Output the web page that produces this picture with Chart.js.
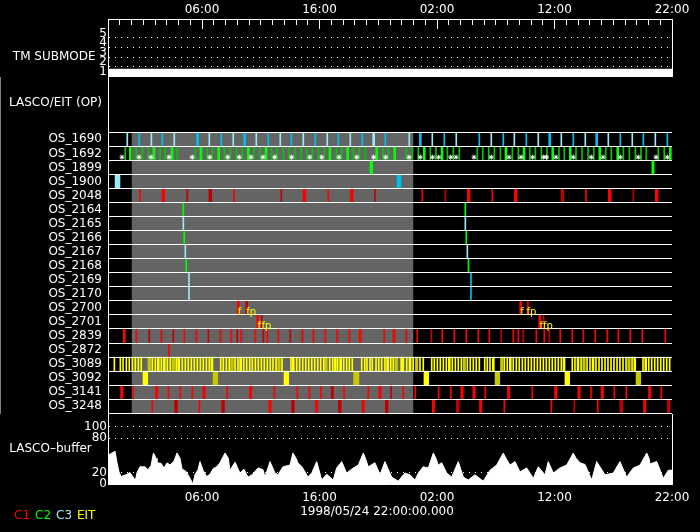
<!DOCTYPE html>
<html><head><meta charset="utf-8">
<script src="https://cdn.jsdelivr.net/npm/chart.js@4.4.1/dist/chart.umd.min.js"></script>
<style>
html,body{margin:0;padding:0;background:#000;width:700px;height:532px;overflow:hidden}
canvas{position:absolute;left:0}
#cTop{top:0}#cRows{top:77px}#cBuf{top:414px}
</style></head><body>
<canvas id="cTop" width="700" height="77"></canvas>
<canvas id="cRows" width="700" height="337"></canvas>
<canvas id="cBuf" width="700" height="118"></canvas>
<script>
// ---------------- data ----------------
const startTime = '1998/05/24 22:00:00.000';
const axisHours = [8, 18, 28, 38, 48];            // hours after start
const axisLabels = ['06:00', '16:00', '02:00', '12:00', '22:00'];
const submodeLevels = [1, 2, 3, 4, 5];
const tmSubmodeHours = [0, 48];
const tmSubmodeValues = [1, 1];
const opPeriod = [2, 26];                          // LASCO/EIT operational window (hours)
const rowNames = ['OS_1690','OS_1692','OS_1899','OS_1900','OS_2048','OS_2164','OS_2165','OS_2166','OS_2167','OS_2168',
  'OS_2169','OS_2170','OS_2700','OS_2701','OS_2839','OS_2872','OS_3089','OS_3092','OS_3141','OS_3248'];
const legendNames = ['C1', 'C2', 'C3', 'EIT'];
const bufferTicks = [0, 20, 80, 100];

// marks: centre hour, or [centre hour, exposure minutes]
const os1690C3 = [1.64,3.69,5.64,8.62,10.66,12.62,14.66,16.62,18.66,20.62,[22.61,10],25.64,27.60,29.64,32.62,34.58,36.62,38.58,40.62,42.58,44.62,46.58];
const os1690C3b = [2.66,4.62,[7.62,10],9.64,[11.63,10],13.64,15.60,17.64,19.60,21.64,23.60,[26.58,10],28.62,31.60,33.64,35.60,[37.59,10],39.60,[41.59,10],43.60,45.56,47.60];
const os1692C2 = [[1.90,10],[3.91,10],[5.45,10],[7.91,10],[9.42,10],[11.94,10],[13.45,10],[18.89,10],[20.40,10],[22.87,10],[24.40,10],[26.92,10],[28.43,10],[33.87,10],[35.40,10],[37.85,10],[39.34,10],[41.85,10],[43.38,10],[47.86,10]];
const os1692C2Dim = [1.47,2.41,2.92,3.43,4.43,4.88,5.90,7.43,8.45,8.88,9.90,10.41,10.92,11.43,12.43,12.94,13.93,14.41,14.92,15.43,15.94,16.45,16.91,17.39,17.90,18.41,19.43,19.89,20.88,21.39,21.90,23.40,23.86,25.39,25.90,26.41,27.43,27.91,28.88,29.39,29.90,31.43,31.89,32.40,32.88,33.39,34.41,34.92,35.89,36.37,36.88,37.36,38.38,38.83,39.83,40.34,40.85,41.34,42.36,42.83,43.86,44.37,44.88,45.36,45.81,46.83,47.34];
const os1692Done = [1.19,2.64,3.66,5.19,7.17,8.66,10.19,11.17,12.17,13.19,14.19,15.63,17.17,18.19,19.66,21.17,22.61,23.63,25.62,26.58,27.63,28.14,29.17,29.62,31.15,32.62,34.13,35.15,36.14,37.08,37.32,38.13,39.60,41.13,42.13,43.60,45.13,46.64,47.60];
const os1899C2 = [[22.41,14],[46.38,12]];
const os1900C3 = [[0.81,25]];
const os1900C3b = [[24.77,20]];
const os2048C1 = [2.72,[4.71,14],10.72,[16.71,14],18.75,[20.74,14],26.75,[30.70,14],32.71,[34.70,14],40.68,[42.70,14],[46.70,14]];
const os2048C1Dim = [6.75,[8.71,14],14.75,22.72,28.71,[38.68,14],44.71];
const os2164C2 = [6.41, 30.41];
const os2165C3 = [6.41, 30.41];
const os2166C2 = [6.49, 30.49];
const os2167C3 = [6.58, 30.58];
const os2168C2 = [6.66, 30.68];
const os2169C3 = [6.89];
const os2169C3b = [30.89];
const os2170C3 = [6.89];
const os2170C3b = [30.89];
const os2700C1 = [[11.09,10],[35.12,10]];
const os2700C1Dim = [[11.80,10],[35.74,10]];
const os2701C1 = [[12.74,10],[36.74,10]];
const os2701C1Dim = [13.08, 37.08];
const os2839C1 = [[1.39,10],2.41,4.54,6.49,7.51,9.56,10.49,11.34,12.54,13.56,14.49,16.54,17.47,18.49,19.51,20.54,[21.47,10],23.51,[24.34,10],25.39,26.32,28.45,29.47,30.49,31.51,32.45,34.49,34.92,36.45,37.13,38.49,39.51,40.45,41.47,42.49,43.43,44.45,45.47,47.43];
const os2839C1Dim = [3.51,5.56,8.54,11.00,13.22,15.51,27.51,33.47,35.34,37.56];
const os2872C1 = [5.19];
const os3089Eit = [0.54,1.05,1.28,1.56,1.81,2.07,2.32,2.58,2.83,3.77,4.03,[4.28,10],4.54,[4.79,10],5.05,5.30,5.81,[6.02,10],6.32,6.58,6.83,7.09,7.34,7.60,7.86,8.11,8.37,8.62,[8.85,10],9.59,9.81,10.07,10.32,10.81,11.06,[11.29,10],11.55,11.80,12.06,12.28,12.54,12.79,13.05,13.30,13.56,13.81,14.04,14.30,14.81,15.57,[15.77,10],16.06,16.31,16.57,16.83,17.08,17.34,17.59,17.85,18.10,18.36,18.87,19.12,[19.34,10],19.54,[19.80,10],20.06,20.31,20.54,20.79,21.59,21.85,22.04,22.30,22.49,22.81,23.04,23.29,23.57,[23.80,10],24.06,24.28,[24.99,10],25.13,25.42,[25.70,10],25.98,26.55,26.83,27.55,27.77,28.03,28.28,28.54,28.79,[29.05,10],29.30,29.56,29.81,30.07,30.58,30.83,31.09,31.34,31.60,32.06,32.28,32.51,[32.79,10],33.73,33.98,[34.24,10],34.49,34.75,35.00,35.26,35.51,35.77,36.03,36.28,36.54,36.79,37.05,37.30,37.56,37.81,38.07,38.32,38.58,[38.81,10],39.51,39.74,[40.00,10],40.26,40.77,41.02,[41.28,10],41.53,41.79,42.04,42.30,42.55,42.81,43.06,43.32,43.57,43.83,44.09,44.60,[44.83,10],45.53,[45.76,10],46.02,46.27,46.53,46.78,47.04,47.29,47.55,47.80];
const os3089EitDim = [[3.51,13],[5.56,13],[10.55,13],[14.55,13],[18.55,13],[24.54,13],[26.27,13],[30.32,13],[33.51,13],[40.51,13],[44.34,13]];
const os3092Eit = [[3.18,24],[15.18,24],[27.09,24],[39.09,24]];
const os3092EitDim = [[9.14,24],[21.13,27],[33.14,24],[45.14,24]];
const os3141C1 = [[1.17,12],2.15,[4.14,12],5.13,6.15,7.17,[8.17,12],10.15,[12.14,12],14.15,16.11,17.13,18.13,20.09,22.15,[23.15,12],25.13,26.15,28.14,29.17,[30.13,12],[31.15,12],32.11,[34.10,12],36.11,[38.10,12],[40.09,12],41.11,[42.07,12],43.09,44.11,[46.10,12],47.09];
const os3141C1Dim = [[19.09,12],24.09];
const os3248C1 = [3.77,7.77,[13.79,12],[17.76,12],[21.72,12],[27.69,12],[31.72,12],33.73,37.73,41.68,[45.68,12]];
const os3248C1Dim = [[5.79,14],[9.79,14],[15.74,14],[19.72,14],[23.72,14],[29.76,14],39.69,[43.68,14],[47.72,14]];

const planLabelHours = [11.05, 11.76, 35.08, 35.62, 12.72, 13.06, 36.72, 37.02];
const planLabelRows = ['OS_2700','OS_2700','OS_2700','OS_2700','OS_2701','OS_2701','OS_2701','OS_2701'];
const planLabelTexts = ['f','fp','f','fp','f','fp','f','fp'];

const bufHours = [0.00,0.60,0.77,0.94,1.11,1.53,1.87,2.21,2.34,2.47,2.72,3.15,3.40,3.66,3.87,4.09,4.17,4.51,4.77,5.02,
  5.28,5.62,5.87,6.13,6.30,6.64,6.98,7.23,7.40,7.66,7.83,8.09,8.40,8.68,8.96,9.25,9.53,9.96,10.24,10.38,
  10.81,11.23,11.57,11.91,12.26,12.77,13.19,13.36,13.79,14.21,14.47,14.89,15.49,15.74,16.00,16.17,16.51,17.02,17.36,17.76,
  18.19,18.61,19.17,19.46,19.89,20.31,20.88,21.30,21.73,21.96,22.15,22.72,23.15,23.57,24.14,24.71,25.13,25.28,25.70,26.13,
  26.41,26.83,27.26,27.69,27.91,28.11,28.40,28.83,29.25,29.81,30.24,30.66,31.23,31.94,32.51,33.08,33.64,33.87,34.21,34.64,
  35.06,35.63,36.20,36.62,37.19,37.47,37.90,38.47,39.04,39.60,39.83,40.17,40.60,41.17,41.59,42.30,43.00,43.57,44.14,44.71,
  45.28,45.85,46.04,46.13,46.70,47.26,47.69,48.00];
const bufValues = [50,57,37,21,13,16,20,10,7,20,30,30,25,32,54,45,37,36,28,37,
  33,40,54,45,26,22,10,0,16,25,39,24,13,17,27,30,37,54,45,24,
  38,19,26,12,16,28,25,12,39,19,16,30,33,54,45,37,30,12,20,39,
  7,17,7,28,39,19,28,33,54,42,30,37,16,39,12,5,16,19,16,7,
  19,30,28,54,45,33,37,19,12,39,12,7,16,5,24,33,54,45,33,39,
  21,28,10,30,16,39,19,28,33,54,45,37,34,7,39,16,19,39,12,28,
  33,54,45,35,39,10,24,24];

// ---------------- styles ----------------
const RED='#ff0000', DRED='#c00000', GREEN='#00ff00', DGREEN='#00c800', LBLUE='#a0e6f5', CYAN='#00c0f0',
      YEL='#ffff00', OLIVE='#c8c800', GRAY='#646464', WHITE='#ffffff', NONE='rgba(0,0,0,0)';
const legendColors = [RED, '#00ff00', LBLUE, YEL];
const FAM = 'DejaVu Sans';
Chart.defaults.font.family = FAM;
Chart.defaults.font.size = 12;
Chart.defaults.color = WHITE;
const LEFT_W = 108, RIGHT_W = 28;
const noPad = s => { s.paddingTop = 0; s.paddingBottom = 0; s.paddingLeft = 0; s.paddingRight = 0; };
const fixW = w => s => { s.width = w; noPad(s); };
const fixH = h => s => { s.height = h; noPad(s); };
const base = { responsive:false, animation:false, events:[], layout:{padding:0, autoPadding:false},
  plugins:{ legend:{display:false}, tooltip:{enabled:false} } };
const rightBorder = { type:'linear', position:'right', display:true, ticks:{display:false},
  grid:{display:false, drawTicks:false}, border:{color:WHITE, width:1}, afterFit: fixW(RIGHT_W) };

// ---------------- top panel: TM SUBMODE ----------------
new Chart(document.getElementById('cTop'), {
  type:'line',
  data:{ datasets:[{ data: tmSubmodeHours.map((h,i)=>({x:h, y:tmSubmodeValues[i]})), borderColor:WHITE,
    borderWidth:15, pointRadius:0, xAxisID:'x', yAxisID:'y' }] },
  options:{ ...base,
    scales:{
      x:{ type:'linear', position:'top', min:0, max:48, weight:0, offset:false,
        ticks:{display:false, stepSize:1, maxTicksLimit:100},
        grid:{drawOnChartArea:false, tickLength:-6, tickColor:WHITE}, border:{color:WHITE}, afterFit: fixH(0) },
      xMaj:{ type:'linear', position:'top', min:0, max:48, weight:1, offset:false,
        afterBuildTicks: s => { s.ticks = axisHours.map(v=>({value:v})); },
        ticks:{ autoSkip:false, maxRotation:0, padding:12, callback:(v,i)=>axisLabels[i] },
        grid:{drawOnChartArea:false, tickLength:-10, tickColor:WHITE}, border:{color:WHITE}, afterFit: fixH(19) },
      y:{ type:'linear', position:'left', min:0.93, max:6.98, offset:false,
        afterBuildTicks: s => { s.ticks = submodeLevels.map(v=>({value:v})).concat([{value:3}]); },
        ticks:{ autoSkip:false, padding:1, font:{size:12, lineHeight:0.75},
          callback:(v,i)=> i < submodeLevels.length ? [String(submodeLevels[i]), ''] : 'TM SUBMODE   ' },
        grid:{ drawTicks:false, color: c => (c.index < submodeLevels.length && c.tick && c.tick.value > 1) ? WHITE : NONE },
        border:{color:WHITE, dash:[1,5]}, afterFit: fixW(LEFT_W) },
      yR: rightBorder
    } }
});

// ---------------- rows panel ----------------
const span = e => { const [h, m] = Array.isArray(e) ? e : [e, 5]; return [h - m/120, h + m/120]; };
const layers = [
  ['OS_1690', os1690C3, LBLUE], ['OS_1690', os1690C3b, CYAN],
  ['OS_1692', os1692C2Dim, DGREEN], ['OS_1692', os1692C2, GREEN],
  ['OS_1899', os1899C2, GREEN],
  ['OS_1900', os1900C3, LBLUE], ['OS_1900', os1900C3b, CYAN],
  ['OS_2048', os2048C1, RED], ['OS_2048', os2048C1Dim, DRED],
  ['OS_2164', os2164C2, GREEN], ['OS_2165', os2165C3, LBLUE], ['OS_2166', os2166C2, GREEN],
  ['OS_2167', os2167C3, LBLUE], ['OS_2168', os2168C2, GREEN],
  ['OS_2169', os2169C3, LBLUE], ['OS_2169', os2169C3b, CYAN],
  ['OS_2170', os2170C3, LBLUE], ['OS_2170', os2170C3b, CYAN],
  ['OS_2700', os2700C1, RED], ['OS_2700', os2700C1Dim, DRED],
  ['OS_2701', os2701C1, RED], ['OS_2701', os2701C1Dim, DRED],
  ['OS_2839', os2839C1, RED], ['OS_2839', os2839C1Dim, DRED],
  ['OS_2872', os2872C1, RED],
  ['OS_3089', os3089Eit, YEL], ['OS_3089', os3089EitDim, OLIVE],
  ['OS_3092', os3092Eit, YEL], ['OS_3092', os3092EitDim, OLIVE],
  ['OS_3141', os3141C1, RED], ['OS_3141', os3141C1Dim, DRED],
  ['OS_3248', os3248C1, RED], ['OS_3248', os3248C1Dim, DRED]
];
const rowSets = layers.map(([row, list, color]) => {
  const r = rowNames.indexOf(row);
  return { type:'bar', indexAxis:'y', xAxisID:'x', yAxisID:'y', grouped:false, order:1,
    data: list.map(e => ({ x: span(e), y: r })), backgroundColor: color, borderWidth:0,
    barPercentage:1, categoryPercentage:1, minBarLength:1 };
});
const nRows = rowNames.length;
const Y_MIN = -4.436, Y_MAX = 19.55, OP_LABEL_POS = -2.6;
const planText = { id:'planText', afterDraw(chart) {
  const {ctx, scales:{x, y}} = chart;
  ctx.save(); ctx.font = '10px "' + FAM + '"'; ctx.fillStyle = YEL; ctx.textAlign = 'left'; ctx.textBaseline = 'alphabetic';
  planLabelHours.forEach((h, i) => {
    const r = rowNames.indexOf(planLabelRows[i]);
    ctx.fillText(planLabelTexts[i], x.getPixelForValue(h), y.getPixelForValue(r + 0.47));
  });
  ctx.restore();
} };
new Chart(document.getElementById('cRows'), {
  type:'bar',
  data:{ datasets: [
    { type:'line', xAxisID:'x', yAxisID:'y', order:10,
      data:[{x:opPeriod[0], y:-0.5}, {x:opPeriod[1], y:-0.5}], fill:{value: nRows - 0.5},
      backgroundColor:GRAY, borderColor:NONE, borderWidth:0, pointRadius:0 },
    ...rowSets,
    { type:'line', xAxisID:'x', yAxisID:'y', order:0, showLine:false,
      data: os1692Done.map(h => ({x:h, y: rowNames.indexOf('OS_1692') + 0.27})),
      pointStyle:'star', pointRadius:2.5, pointBorderColor:WHITE, pointBackgroundColor:WHITE, pointBorderWidth:1 }
  ] },
  options:{ ...base,
    scales:{
      x:{ type:'linear', min:0, max:48, display:false, offset:false },
      y:{ type:'linear', position:'left', reverse:true, min:Y_MIN, max:Y_MAX, offset:false,
        afterBuildTicks: s => { s.ticks = [{value:OP_LABEL_POS}].concat(rowNames.map((_, i) => ({value:i}))); },
        ticks:{ autoSkip:false, padding:6, callback:(v, i) => i === 0 ? 'LASCO/EIT (OP)' : rowNames[i - 1] },
        grid:{ display:false, drawTicks:false, offset:false }, border:{color:WHITE, width:1}, afterFit: fixW(LEFT_W) },
      yGrid:{ type:'linear', position:'right', reverse:true, min:Y_MIN, max:Y_MAX, offset:false,
        afterBuildTicks: s => { s.ticks = rowNames.map((_, i) => ({value:i - 0.5})).concat([{value:nRows - 0.5}]); },
        ticks:{display:false}, grid:{color:WHITE, lineWidth:1, drawTicks:false, z:1, offset:false},
        border:{color:WHITE, width:1}, afterFit: fixW(RIGHT_W) }
    } },
  plugins:[planText]
});

// ---------------- LASCO buffer panel ----------------
const BUF_LABEL_POS = 61;
const footer = { id:'footer', afterDraw(chart) {
  const ctx = chart.ctx;
  ctx.save(); ctx.font = '12px "' + FAM + '"'; ctx.textBaseline = 'middle';
  ctx.fillStyle = WHITE; ctx.textAlign = 'center';
  ctx.fillText(startTime, 377, 98);
  ctx.textAlign = 'left';
  const lx = [14, 35, 56, 77];
  legendNames.forEach((n, i) => { ctx.fillStyle = legendColors[i]; ctx.fillText(n, lx[i], 102); });
  ctx.restore();
} };
new Chart(document.getElementById('cBuf'), {
  type:'line',
  data:{ datasets:[{ data: bufHours.map((h, i) => ({x:h, y:bufValues[i]})), fill:'origin',
    backgroundColor:WHITE, borderColor:WHITE, borderWidth:1, pointRadius:0, tension:0, xAxisID:'x', yAxisID:'y' }] },
  options:{ ...base,
    scales:{
      x:{ type:'linear', position:'bottom', min:0, max:48, offset:false,
        afterBuildTicks: s => { s.ticks = axisHours.map(v => ({value:v})); },
        ticks:{ autoSkip:false, maxRotation:0, padding:7, callback:(v, i) => axisLabels[i] },
        grid:{ drawOnChartArea:false, drawTicks:false }, border:{color:WHITE}, afterFit: fixH(48) },
      y:{ type:'linear', position:'left', min:0, max:122, offset:false,
        afterBuildTicks: s => { s.ticks = bufferTicks.map(v => ({value:v})).concat([{value:BUF_LABEL_POS}]); },
        ticks:{ autoSkip:false, padding:1, callback:(v, i) => i < bufferTicks.length ? String(bufferTicks[i]) : 'LASCO\u2013buffer    ' },
        grid:{ drawTicks:false, color: c => (c.tick && c.index < bufferTicks.length && c.tick.value > 0) ? WHITE : NONE },
        border:{color:WHITE, dash:[1,5]}, afterFit: fixW(LEFT_W) },
      yR: rightBorder
    } },
  plugins:[footer]
});
</script></body></html>
